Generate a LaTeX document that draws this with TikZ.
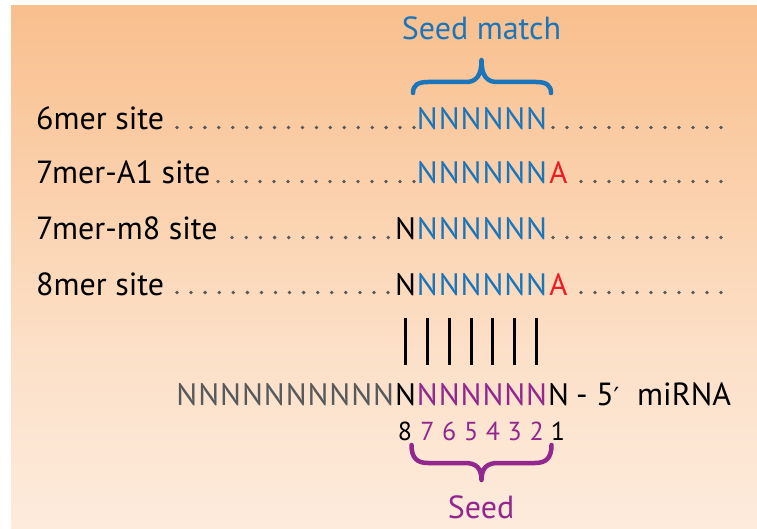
\documentclass[tikz,border=0pt]{standalone}
\usepackage{fontspec}
\setmainfont{PT Sans}
\newfontfamily\symfont{DejaVu Sans}
\definecolor{seedblue}{HTML}{1B75BB}
\definecolor{seedred}{HTML}{ED1C24}
\definecolor{seedpurple}{HTML}{92278F}
\definecolor{ngray}{HTML}{58595B}
\definecolor{dotgray}{HTML}{58595B}
\definecolor{bgtop}{HTML}{F9BF8D}
\definecolor{bgmid}{HTML}{FCE0C8}
\definecolor{bgbot}{HTML}{FDEBDC}
\pgfdeclareverticalshading{bgshade}{100bp}{color(0bp)=(bgbot); color(25bp)=(bgbot); color(42bp)=(bgmid); color(75bp)=(bgtop); color(100bp)=(bgtop)}
\begin{document}
\begin{tikzpicture}[x=1pt,y=-1pt,
  lbl/.style={anchor=base west, inner sep=0pt, font=\fontsize{32}{38}\selectfont},
  nt/.style={anchor=base, inner sep=0pt, font=\fontsize{31}{37}\selectfont},
  ttl/.style={anchor=base, inner sep=0pt, font=\fontsize{32}{38}\selectfont},
  dig/.style={anchor=base, inner sep=0pt, font=\fontsize{26}{31}\selectfont},
  pairbar/.style={line width=3pt, black},
  bracepath/.style={line width=4.5pt, line cap=round, line join=round},
  dotmark/.style={fill=dotgray}
]
\useasboundingbox (0,0) rectangle (757,529);
\fill[white] (0,0) rectangle (757,529);
\shade[shading=bgshade] (11,6) rectangle (757,529);

% Seed match title and brace
\node[ttl, text=seedblue] (seedmatch) at (481.5,40) {Seed match};
\draw[bracepath, seedblue] (413,93) .. controls (413,85) and (418,82) .. (428,82) -- (466,82) .. controls (476,82) and (481.5,76) .. (481.5,60) .. controls (481.5,76) and (487,82) .. (497,82) -- (536,82) .. controls (546,82) and (551,85) .. (551,93);

% Row labels
\node[lbl] (l1) at (36,129.5) {6mer site};
\node[lbl] (l2) at (36,183.5) {7mer-A1 site};
\node[lbl] (l3) at (36,240) {7mer-m8 site};
\node[lbl] (l4) at (36,295) {8mer site};

% dots
\foreach \k in {0,...,17} \fill[dotmark] ({177+13.94*\k},127.5) circle (1.9pt);
\foreach \k in {0,...,14} \fill[dotmark] ({218+14*\k},181.5) circle (1.9pt);
\foreach \k in {0,...,11} \fill[dotmark] ({232+14.2*\k},237.5) circle (1.9pt);
\foreach \k in {0,...,15} \fill[dotmark] ({177+14.07*\k},292.5) circle (1.9pt);
\foreach \k in {0,...,12} {
  \fill[dotmark] ({553+14*\k},127.5) circle (1.9pt);
  \fill[dotmark] ({553+14*\k},237.5) circle (1.9pt);
}
\foreach \k in {0,...,10} {
  \fill[dotmark] ({581+14*\k},181.5) circle (1.9pt);
  \fill[dotmark] ({581+14*\k},292.5) circle (1.9pt);
}

% site sequences
\foreach \p in {7,...,2} {
  \node[nt, text=seedblue] (ra\p) at ({405.5+(8-\p)*21.86},129.5) {N};
  \node[nt, text=seedblue] (rb\p) at ({405.5+(8-\p)*21.86},183.5) {N};
  \node[nt, text=seedblue] (rc\p) at ({405.5+(8-\p)*21.86},240) {N};
  \node[nt, text=seedblue] (rd\p) at ({405.5+(8-\p)*21.86},295) {N};
}
\node[nt, text=seedred] (rb1) at ({405.5+7*21.86},183.5) {A};
\node[nt, text=seedred] (rd1) at ({405.5+7*21.86},295) {A};
\node[nt, text=black] (rc8) at (405.5,240) {N};
\node[nt, text=black] (rd8) at (405.5,295) {N};

% pairing bars
\foreach \p in {8,...,2} {
  \coordinate (bt\p) at ({405.5+(8-\p)*21.86},318);
  \coordinate (bb\p) at ({405.5+(8-\p)*21.86},365);
  \draw[pairbar] (bt\p) -- (bb\p);
}

% miRNA
\foreach \p in {9,...,18} \node[nt, text=ngray] (m\p) at ({405.5+(8-\p)*21.86},405) {N};
\node[nt, text=black] (m8) at (405.5,405) {N};
\foreach \p in {7,...,2} \node[nt, text=seedpurple] (m\p) at ({405.5+(8-\p)*21.86},405) {N};
\node[nt, text=black] (m1) at ({405.5+7*21.86},405) {N};
\node[lbl] (five) at (576,405) {- 5{\symfont\fontsize{25}{30}\selectfont ′}};
\node[lbl] (mirna) at (637,405) {miRNA};

% position numbers
\node[dig, text=black] (d8) at (405,440) {8};
\foreach \p in {7,...,2} \node[dig, text=seedpurple] (d\p) at ({405.5+(8-\p)*21.86},440) {\p};
\node[dig, text=black] (d1) at (558,440) {1};

% seed brace and label
\draw[bracepath, seedpurple] (411.5,445) .. controls (411.5,458) and (417,463) .. (428,463) -- (465,463) .. controls (476,463) and (481.5,468) .. (481.5,480) .. controls (481.5,468) and (487,463) .. (498,463) -- (535,463) .. controls (546,463) and (551.5,458) .. (551.5,445);
\node[ttl, text=seedpurple] (seed) at (481,518) {Seed};
\end{tikzpicture}
\end{document}
